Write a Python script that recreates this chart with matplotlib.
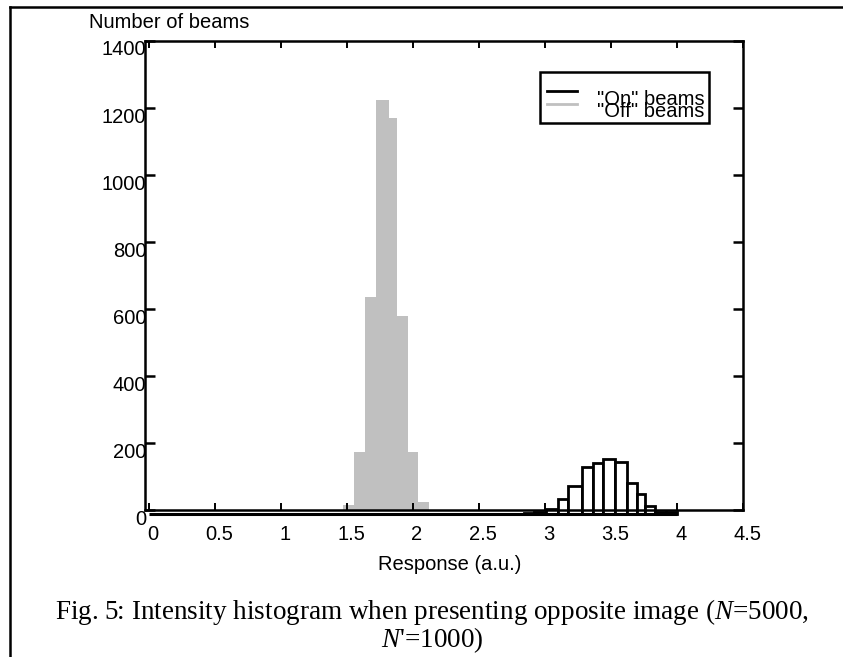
import numpy as np
import matplotlib
matplotlib.use("Agg")
import matplotlib.pyplot as plt
from matplotlib.lines import Line2D
from matplotlib.patches import Rectangle
from matplotlib.transforms import ScaledTranslation

plt.rcParams['font.family'] = ['Liberation Sans', 'DejaVu Sans']
plt.rcParams['mathtext.fontset'] = 'custom'
plt.rcParams['mathtext.rm'] = 'Liberation Serif'
plt.rcParams['mathtext.it'] = 'Liberation Serif:italic'

# --- data ---
# "Off" beams (grey, filled)
off_edges = [1.470, 1.553, 1.634, 1.717, 1.818, 1.876, 1.959, 2.035, 2.121]
off_counts = [15, 173, 636, 1225, 1170, 579, 173, 24]

# "On" beams (black outline)
on_edges = [2.840, 2.920, 3.005, 3.096, 3.177, 3.278, 3.366, 3.437, 3.530,
            3.619, 3.699, 3.758, 3.833, 3.916, 3.998]
on_counts = [2, 5, 15, 45, 84, 139, 152, 164, 154, 92, 60, 23, 7, 7]

x_ticks = [0, 0.5, 1, 1.5, 2, 2.5, 3, 3.5, 4, 4.5]
x_tick_labels = ['0', '0.5', '1', '1.5', '2', '2.5', '3', '3.5', '4', '4.5']
y_ticks = [0, 200, 400, 600, 800, 1000, 1200, 1400]

FS = 14.5
LW = 1.8

fig = plt.figure(figsize=(8.43, 6.57), dpi=100)
ax = fig.add_axes([0.172, 0.2237, 0.7094, 0.7139])

# grey histogram
off_w = np.diff(off_edges)
ax.bar(off_edges[:-1], off_counts, width=off_w, align='edge',
       color='#c0c0c0', edgecolor='none', linewidth=0, zorder=1)

# black outlined histogram, drawn a few pixels low like the original
shift = ScaledTranslation(0, -4 / 100, fig.dpi_scale_trans)
on_w = np.diff(on_edges)
bars = ax.bar(on_edges[:-1], on_counts, width=on_w, align='edge',
              color='white', edgecolor='black', linewidth=2.0, zorder=2)
for b in bars:
    b.set_transform(ax.transData + shift)
    b.set_clip_on(False)
ax.plot([0, on_edges[-1]], [0, 0], color='black', linewidth=2.2,
        transform=ax.transData + shift, clip_on=False, zorder=2,
        solid_capstyle='butt')

ax.set_xlim(-0.03, 4.5)
ax.set_ylim(0, 1400)
ax.set_xticks(x_ticks)
ax.set_xticklabels(x_tick_labels)
ax.set_yticks(y_ticks)

for s in ax.spines.values():
    s.set_linewidth(LW)
    s.set_zorder(3)

ax.tick_params(axis='y', direction='in', length=7.5, width=LW, left=True,
               right=True, labelsize=FS, pad=-1)
ax.tick_params(axis='x', direction='in', length=5, width=1.4, top=True,
               bottom=True, labelsize=FS, pad=11)

# labels sit a little low / right of their ticks in the original
for lab in ax.get_yticklabels():
    lab.set_transform(lab.get_transform() + ScaledTranslation(0, -7 / 100, fig.dpi_scale_trans))
for lab in ax.get_xticklabels():
    lab.set_transform(lab.get_transform() + ScaledTranslation(4 / 100, 0, fig.dpi_scale_trans))

ax.set_xlabel('Response (a.u.)', fontsize=FS)
ax.xaxis.set_label_coords(0.51, -0.095)
fig.text(89 / 843, 1 - 23 / 657, 'Number of beams', fontsize=FS,
         ha='left', va='center')

# legend box drawn by hand (text overlaps as in the source)
ax.add_patch(Rectangle((0.6605, 0.825), 0.2825, 0.109, transform=ax.transAxes,
                       facecolor='white', edgecolor='black', linewidth=LW,
                       zorder=4))
ax.add_line(Line2D([0.672, 0.722], [0.893, 0.893], transform=ax.transAxes,
                   color='black', linewidth=2.0, zorder=5))
ax.add_line(Line2D([0.672, 0.722], [0.866, 0.866], transform=ax.transAxes,
                   color='#c0c0c0', linewidth=2.0, zorder=5))
ax.text(0.935, 0.876, '"On" beams', transform=ax.transAxes, fontsize=FS,
        ha='right', va='center', zorder=6)
ax.text(0.935, 0.849, '"Off" beams', transform=ax.transAxes, fontsize=FS,
        ha='right', va='center', zorder=6)

# outer frame (top and left)
fig.add_artist(Line2D([10 / 843, 1.0], [1 - 7 / 657, 1 - 7 / 657],
                      transform=fig.transFigure, color='black', linewidth=1.8))
fig.add_artist(Line2D([10 / 843, 10 / 843], [0.0, 1 - 7 / 657],
                      transform=fig.transFigure, color='black', linewidth=1.8))

# caption
fig.text(432 / 843, 1 - 612 / 657,
         'Fig. 5: Intensity histogram when presenting opposite image ($N$=5000,',
         fontsize=19.5, family='Liberation Serif', ha='center', va='center')
fig.text(432 / 843, 1 - 640 / 657, "$N$'=1000)",
         fontsize=19.5, family='Liberation Serif', ha='center', va='center')

fig.savefig('out.png', dpi=100)
